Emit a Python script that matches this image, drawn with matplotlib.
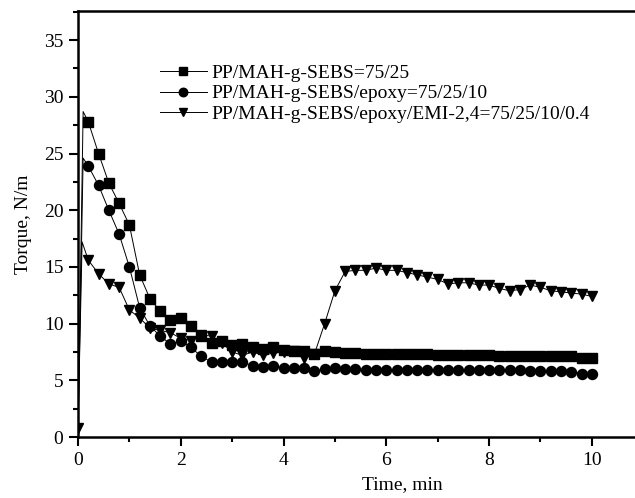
import matplotlib
matplotlib.use("Agg")
import matplotlib.pyplot as plt
from matplotlib.ticker import MultipleLocator

plt.rcParams['font.family'] = ['Liberation Serif', 'DejaVu Serif']

# time grid after the start-up peak (min)
t_tail = [0.2, 0.4, 0.6, 0.8, 1.0, 1.2, 1.4, 1.6, 1.8, 2.0,
          2.2, 2.4, 2.6, 2.8, 3.0, 3.2, 3.4, 3.6, 3.8, 4.0,
          4.2, 4.4, 4.6, 4.8, 5.0, 5.2, 5.4, 5.6, 5.8, 6.0,
          6.2, 6.4, 6.6, 6.8, 7.0, 7.2, 7.4, 7.6, 7.8, 8.0,
          8.2, 8.4, 8.6, 8.8, 9.0, 9.2, 9.4, 9.6, 9.8, 10.0]

# PP/MAH-g-SEBS=75/25
t_sebs = [0.0, 0.1] + t_tail
v_sebs = [0.3, 28.7,
          27.8, 25.0, 22.4, 20.6, 18.7, 14.3, 12.2, 11.1, 10.3, 10.5,
          9.8, 8.9, 8.3, 8.5, 8.1, 8.2, 7.9, 7.8, 7.9, 7.7,
          7.6, 7.6, 7.3, 7.6, 7.5, 7.45, 7.4, 7.35, 7.3, 7.3,
          7.3, 7.3, 7.3, 7.3, 7.2, 7.2, 7.2, 7.2, 7.2, 7.2,
          7.15, 7.15, 7.15, 7.15, 7.15, 7.15, 7.15, 7.1, 7.0, 7.0]

# PP/MAH-g-SEBS/epoxy=75/25/10
t_epoxy = [0.0, 0.1] + t_tail
v_epoxy = [0.3, 24.6,
           23.9, 22.2, 20.0, 17.9, 15.0, 11.4, 9.8, 8.9, 8.2, 8.5,
           7.9, 7.1, 6.6, 6.6, 6.6, 6.6, 6.3, 6.2, 6.3, 6.1,
           6.1, 6.1, 5.8, 6.0, 6.05, 6.0, 6.0, 5.95, 5.9, 5.9,
           5.9, 5.9, 5.9, 5.9, 5.9, 5.9, 5.9, 5.9, 5.9, 5.9,
           5.9, 5.9, 5.9, 5.85, 5.85, 5.85, 5.85, 5.75, 5.6, 5.6]

# PP/MAH-g-SEBS/epoxy/EMI-2,4=75/25/10/0.4
t_emi = [0.0, 0.08] + t_tail
v_emi = [0.8, 17.2,
         15.6, 14.4, 13.5, 13.2, 11.2, 10.5, 9.6, 9.4, 9.2, 8.7,
         8.5, 9.0, 8.9, 8.3, 7.5, 7.2, 7.5, 7.2, 7.4, 7.5,
         7.6, 7.0, 7.3, 10.0, 12.9, 14.6, 14.7, 14.7, 14.9, 14.7,
         14.7, 14.5, 14.3, 14.1, 13.9, 13.5, 13.6, 13.6, 13.4, 13.4,
         13.1, 12.9, 13.0, 13.4, 13.2, 12.9, 12.8, 12.7, 12.6, 12.4]

labels = ['PP/MAH-g-SEBS=75/25',
          'PP/MAH-g-SEBS/epoxy=75/25/10',
          'PP/MAH-g-SEBS/epoxy/EMI-2,4=75/25/10/0.4']

fig = plt.figure(figsize=(6.35, 4.98), dpi=100)
ax = fig.add_axes([78 / 635, 61 / 498, 1 - 78 / 635, 426 / 498])

n = len(t_tail)
ax.plot(t_sebs, v_sebs, color='black', lw=0.7, marker='s', ms=6.5,
        markevery=list(range(2, n + 2)), label=labels[0])
ax.plot(t_epoxy, v_epoxy, color='black', lw=0.7, marker='o', ms=7.2,
        markevery=list(range(2, n + 2)), label=labels[1])
ax.plot(t_emi, v_emi, color='black', lw=0.7, marker='v', ms=7.5,
        markevery=[0] + list(range(2, n + 2)), label=labels[2])

ax.set_xlim(0, 10.84)
ax.set_ylim(0, 37.57)
ax.xaxis.set_major_locator(MultipleLocator(2))
ax.xaxis.set_minor_locator(MultipleLocator(1))
ax.yaxis.set_major_locator(MultipleLocator(5))
ax.yaxis.set_minor_locator(MultipleLocator(2.5))
ax.tick_params(which='major', direction='out', length=6.5, width=1.5,
               labelsize=14, pad=4)
ax.tick_params(which='minor', direction='out', length=3.5, width=1.5)
ax.spines['right'].set_visible(False)
for s in ('left', 'bottom', 'top'):
    ax.spines[s].set_linewidth(1.8)

ax.set_xlabel('Time, min', fontsize=14)
ax.xaxis.set_label_coords(0.583, -0.092)
ax.set_ylabel('Torque, N/m', fontsize=14)
ax.yaxis.set_label_coords(-0.082, 0.5)

ax.legend(loc='upper left', bbox_to_anchor=(0.147, 0.874), frameon=False,
          fontsize=14, handlelength=2.4, handletextpad=0.25,
          labelspacing=0.13, borderpad=0, borderaxespad=0, markerscale=0.85)

fig.savefig('out.png', dpi=100)
